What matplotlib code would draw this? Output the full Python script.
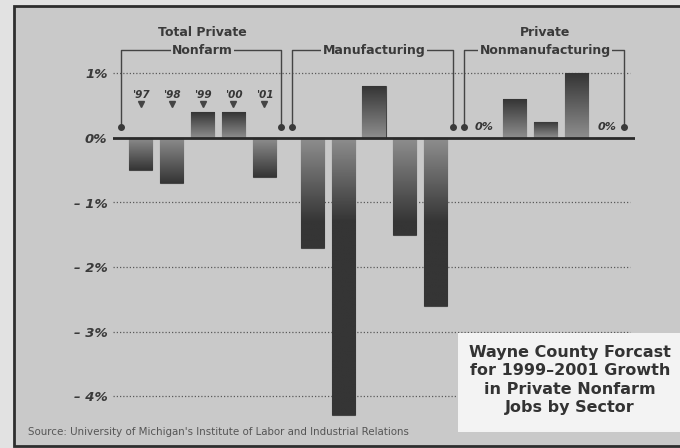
import matplotlib.pyplot as plt
import numpy as np
from matplotlib.colors import LinearSegmentedColormap
from matplotlib.patches import Rectangle

# data (percent growth in private nonfarm jobs)
years = ["'97", "'98", "'99", "'00", "'01"]
sectors = ['Total Private\nNonfarm', 'Manufacturing', 'Private\nNonmanufacturing']
total_private = [-0.5, -0.7, 0.4, 0.4, -0.6]
manufacturing = [-1.7, -4.3, 0.8, -1.5, -2.6]
nonmanufacturing = [0.0, 0.6, 0.25, 1.0, 0.0]
yticks = [1, 0, -1, -2, -3, -4]
ytick_labels = ['1%', '0%', '\u2013 1%', '\u2013 2%', '\u2013 3%', '\u2013 4%']
title = 'Wayne County Forcast\nfor 1999\u20132001 Growth\nin Private Nonfarm\nJobs by Sector'
source = "Source: University of Michigan's Institute of Labor and Industrial Relations"

paper = '#c9c9c9'
ink = '#363636'
group_step = 5.55
bar_w = 0.75

fig = plt.figure(figsize=(6.8, 4.48), dpi=100)
fig.patch.set_facecolor('#e2e2e2')
fig.patches.append(Rectangle((14 / 680, 2 / 448), 1.0, 440 / 448, transform=fig.transFigure,
                             facecolor=paper, edgecolor='#2e2e2e', linewidth=2, zorder=-1))

ax = fig.add_axes([113 / 680, 0, 522 / 680, 1])
ax.set_facecolor('none')
for s in ax.spines.values():
    s.set_visible(False)
ax.set_xticks([])

# grid lines
for t in yticks:
    if t == 0:
        ax.axhline(0, color='#2a2a2a', lw=2, zorder=3)
    else:
        ax.axhline(t, xmax=0.99, color='#5a5a5a', lw=0.9, ls=(0, (1, 1.6)), zorder=1)

cmap = LinearSegmentedColormap.from_list('bar', ['#8e8e8e', '#353535'])

series = [total_private, manufacturing, nonmanufacturing]
for g, values in enumerate(series):
    xs = g * group_step + np.arange(len(values))
    bars = ax.bar(xs, values, width=bar_w, facecolor='none', edgecolor='#464646', lw=0.8, zorder=2)
    for x, v, b in zip(xs, values, bars):
        if v == 0:
            ax.text(x, 0.17, '0%', ha='center', va='center', fontsize=8, fontweight='bold',
                    fontstyle='italic', color=ink)
            continue
        t = np.linspace(0, abs(v), 200)
        ramp = min(abs(v), 1.3)
        shade = np.clip(t / ramp, 0, 1)[:, None]
        im = ax.imshow(shade, cmap=cmap, vmin=0, vmax=1, origin='lower', aspect='auto',
                       extent=[x - bar_w / 2, x + bar_w / 2, 0, v], zorder=2)
        im.set_clip_path(b)

    # bracket
    left = xs[0] - 0.65
    right = xs[-1] + 0.55
    ax.plot([left, left, right, right], [0.17, 1.36, 1.36, 0.17], color='#444444', lw=1, zorder=1)
    ax.plot([left, right], [0.17, 0.17], 'o', ms=4, color='#3a3a3a', ls='none', zorder=1)
    lines = sectors[g].split('\n')
    for k, line in enumerate(reversed(lines)):
        ax.text(xs.mean(), 1.36 + k * 0.28, line, ha='center', va='center', fontsize=9,
                fontweight='bold', color='#3a3a3a',
                bbox=dict(facecolor=paper, edgecolor='none', pad=1))

# year labels above first group
for x, yr in zip(np.arange(len(years)), years):
    ax.text(x, 0.66, yr, ha='center', va='center', fontsize=7.5, fontweight='bold',
            fontstyle='italic', color=ink)
    ax.plot(x, 0.52, marker='v', ms=4, color='#444444')

ax.set_yticks(yticks, ytick_labels)
ax.tick_params(axis='y', length=0, pad=4)
for lab in ax.get_yticklabels():
    lab.set_fontweight('bold')
    lab.set_fontstyle('italic')
    lab.set_fontsize(9.5)
    lab.set_color('#3a3a3a')

ax.set_xlim(-0.9, 16.0)
ax.set_ylim(-310 / 64.5, 138 / 64.5)

# title box
fig.patches.append(Rectangle((458 / 680, 16 / 448), 222 / 680, 99 / 448, transform=fig.transFigure,
                             facecolor='#f3f3f3', edgecolor='none', zorder=5))
fig.text(570 / 680, 68 / 448, title, ha='center', va='center', fontsize=11.5, fontweight='bold',
         color='#333333', linespacing=1.3, zorder=6)

fig.text(28 / 680, 16 / 448, source, ha='left', va='center', fontsize=7.4, color='#555555')

fig.savefig('out.png', dpi=100, facecolor=fig.get_facecolor())
